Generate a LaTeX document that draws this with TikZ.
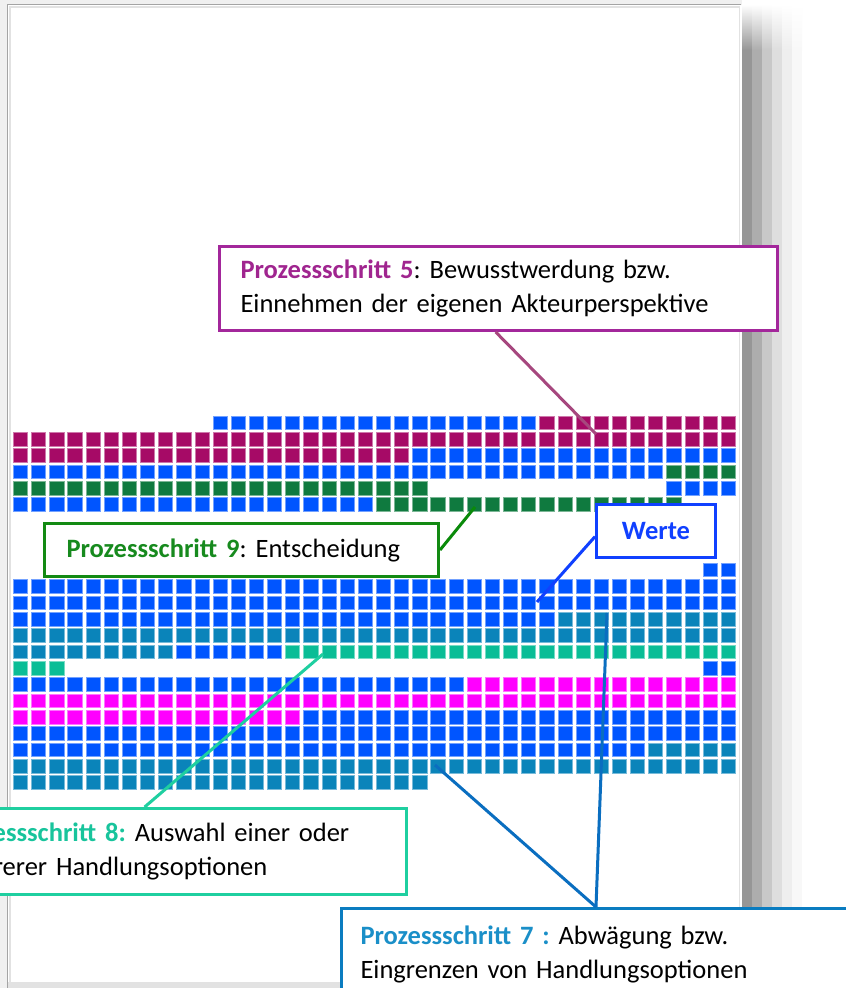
\documentclass[tikz,border=0pt]{standalone}
\usepackage{fontspec}
\setmainfont{Carlito}
\usetikzlibrary{calc}
\frenchspacing
\definecolor{cB}{HTML}{0055FF}
\definecolor{cM}{HTML}{A60A66}
\definecolor{cG}{HTML}{0F7A3F}
\definecolor{cT}{HTML}{0A84BA}
\definecolor{cI}{HTML}{0ABD96}
\definecolor{cP}{HTML}{FF00FF}
\definecolor{bgG}{HTML}{F0F0F0}
\definecolor{frG}{HTML}{A4A4A4}
\definecolor{liG}{HTML}{E2E2E2}
\definecolor{shA}{HTML}{969696}
\definecolor{shB}{HTML}{ADADAD}
\definecolor{shC}{HTML}{C8C8C8}
\definecolor{shD}{HTML}{DEDEDE}
\definecolor{shE}{HTML}{EEEEEE}
\definecolor{shF}{HTML}{F8F8F8}
\definecolor{bF}{HTML}{A3279B}
\definecolor{tF}{HTML}{A0258F}
\definecolor{lF}{HTML}{A6477E}
\definecolor{bN}{HTML}{138A13}
\definecolor{tN}{HTML}{178A1E}
\definecolor{lN}{HTML}{0A8A0A}
\definecolor{bW}{HTML}{1040FF}
\definecolor{bE}{HTML}{1FCFA0}
\definecolor{tE}{HTML}{18C49C}
\definecolor{bS}{HTML}{0A7CC0}
\definecolor{tS}{HTML}{1A8FC8}
\definecolor{lS}{HTML}{0A6EC0}
\tikzset{
  sqB/.style={fill=cB,draw=cB!55!white},
  sqM/.style={fill=cM,draw=cM!55!white},
  sqG/.style={fill=cG,draw=cG!55!white},
  sqT/.style={fill=cT,draw=cT!55!white},
  sqI/.style={fill=cI,draw=cI!55!white},
  sqP/.style={fill=cP,draw=cP!55!white},
  boxbase/.style={draw, fill=white, line width=3, rectangle, align=left,
    inner xsep=0, inner ysep=0, anchor=north west,
    font=\fontsize{26.5}{34}\selectfont},
  conn/.style={line width=3}
}
\newcommand\sqrow[4]{\foreach \cc in {#2,...,#3}{\path[#4, line width=0.8] ({13.4+18.15*\cc},{416.1+16.35*#1}) rectangle ++(14.2,13.6);}}
\begin{document}
\begin{tikzpicture}[x=1pt,y=-1pt]
\useasboundingbox (0,0) rectangle (846,988);
\clip (0,0) rectangle (846,988);
\fill[white] (0,0) rectangle (846,988);
\fill[bgG] (0,0) rectangle (742,4.5);
\fill[bgG] (0,0) rectangle (7,988);
\foreach \x/\c in {742/shA,752/shB,762/shC,772/shD,782/shE,792/shF}{
  \shade[top color=white, bottom color=\c] (\x,4.5) rectangle (\x+10,50);
  \fill[\c] (\x,49.5) rectangle (\x+10,988);
}
\fill[white] (7,4.5) rectangle (741,983);
\fill[liG] (7,982) rectangle (741,988);
\draw[liG, line width=2] (9.5,983) -- (9.5,6.5) -- (739,6.5);
\draw[liG, line width=1.5] (739.5,6) -- (739.5,983);
\draw[frG, line width=1] (7.5,988) -- (7.5,4.5) -- (741,4.5);
% squares
\sqrow{0}{11}{28}{sqB} \sqrow{0}{29}{39}{sqM}
\sqrow{1}{0}{39}{sqM}
\sqrow{2}{0}{21}{sqM} \sqrow{2}{22}{39}{sqB}
\sqrow{3}{0}{35}{sqB} \sqrow{3}{36}{39}{sqG}
\sqrow{4}{0}{22}{sqG} \sqrow{4}{36}{39}{sqB}
\sqrow{5}{0}{19}{sqB} \sqrow{5}{20}{36}{sqG}
\sqrow{9}{38}{39}{sqB}
\sqrow{10}{0}{39}{sqB}
\sqrow{11}{0}{39}{sqB}
\sqrow{12}{0}{29}{sqB} \sqrow{12}{30}{39}{sqT}
\sqrow{13}{0}{39}{sqT}
\sqrow{14}{0}{8}{sqT} \sqrow{14}{9}{14}{sqB} \sqrow{14}{15}{39}{sqI}
\sqrow{15}{0}{2}{sqI} \sqrow{15}{38}{39}{sqB}
\sqrow{16}{0}{24}{sqB} \sqrow{16}{25}{39}{sqP}
\sqrow{17}{0}{39}{sqP}
\sqrow{18}{0}{15}{sqP} \sqrow{18}{16}{39}{sqB}
\sqrow{19}{0}{39}{sqB}
\sqrow{20}{0}{34}{sqB} \sqrow{20}{35}{39}{sqT}
\sqrow{21}{0}{39}{sqT}
\sqrow{22}{0}{22}{sqT}
% target points
\coordinate (t5) at (596,434);
\coordinate (t9) at (475,507);
\coordinate (tW) at (537,602);
\coordinate (t8) at (323,654);
\coordinate (t7a) at (435,765);
\coordinate (t7b) at (607,613);
% boxes
\node[boxbase, draw=bF, minimum width=558, minimum height=84, text width=516] (p5) at (218,245)
  {\textbf{\textcolor{tF}{Prozessschritt 5}}: Bewusstwerdung bzw.\\Einnehmen der eigenen Akteurperspektive};
\node[boxbase, draw=bN, minimum width=394, minimum height=53, text width=350] (p9) at (43,522)
  {\textbf{\textcolor{tN}{Prozessschritt 9}}: Entscheidung};
\node[boxbase, draw=bW, minimum width=119, minimum height=53, align=center] (pw) at (595,503)
  {\textbf{\textcolor{bW}{Werte}}};
\node[boxbase, draw=bE, minimum width=482, minimum height=86, text width=440] (p8) at (-77,807)
  {\textbf{\textcolor{tE}{Prozessschritt 8:}} Auswahl einer oder\\mehrerer Handlungsoptionen};
\node[boxbase, draw=bS, minimum width=560, minimum height=92, text width=522] (p7) at (340,907)
  {\textbf{\textcolor{tS}{Prozessschritt 7 :}} Abwägung bzw.\\Eingrenzen von Handlungsoptionen};
% connectors
\draw[conn, lF] ($(p5.south west)!0.495!(p5.south east)$) -- (t5);
\draw[conn, lN] (p9.east) -- (t9);
\draw[conn, bW] ($(pw.south west)!0.4!(pw.north west)$) -- (tW);
\draw[conn, bE] ($(p8.north west)!0.457!(p8.north east)$) -- (t8);
\draw[conn, lS] ($(p7.north west)+(256,0)$) -- (t7a);
\draw[conn, lS] ($(p7.north west)+(256,0)$) -- (t7b);
\end{tikzpicture}
\end{document}
